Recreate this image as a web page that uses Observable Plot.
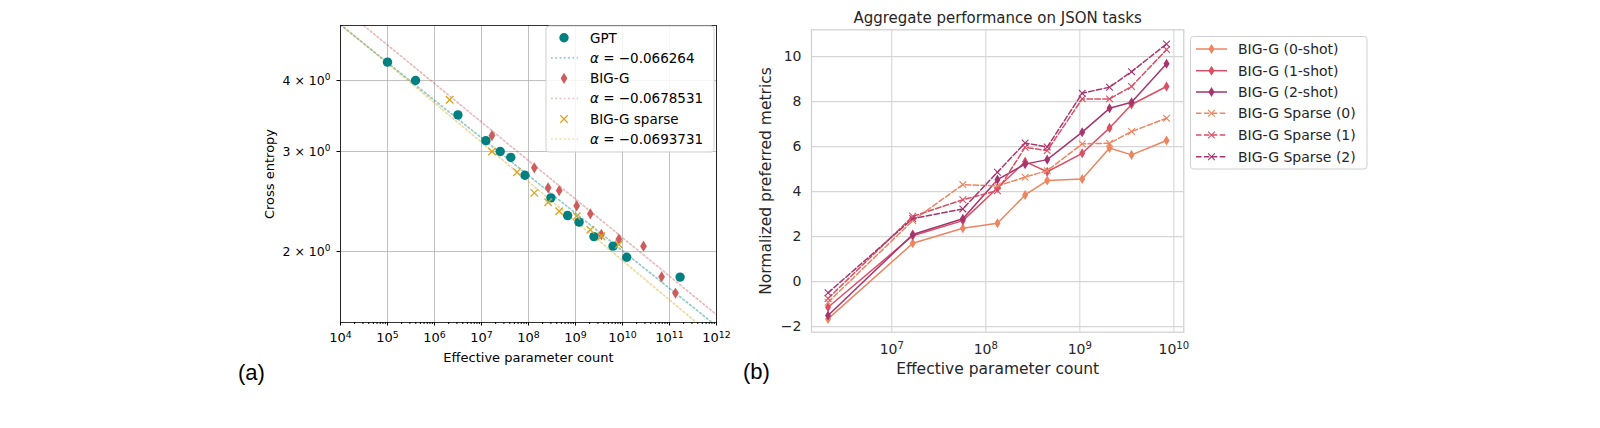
<!DOCTYPE html>
<html><head><meta charset="utf-8">
<script src="https://cdn.jsdelivr.net/npm/d3@7"></script>
<script src="https://cdn.jsdelivr.net/npm/@observablehq/plot@0.6"></script>
<style>
body{margin:0;background:#fff;}
#wrap{position:relative;width:1600px;height:428px;overflow:hidden;font-family:"DejaVu Sans",sans-serif;background:#fff;}
#wrap > svg{position:absolute;top:0;}
</style></head><body><div id="wrap"></div>
<script>
// ---------- Panel (a) data ----------
const gptX = [1e5, 3.95e5, 3.15e6, 1.24e7, 2.5e7, 4.2e7, 8.4e7, 3.0e8, 6.8e8, 1.19e9, 2.47e9, 6.3e9, 1.23e10, 1.68e11];
const gptY = [4.31, 4.00, 3.48, 3.135, 3.00, 2.93, 2.725, 2.486, 2.314, 2.253, 2.125, 2.044, 1.954, 1.803];
const bigX = [1.67e7, 1.33e8, 2.62e8, 4.5e8, 1.06e9, 2.07e9, 3.55e9, 8.36e9, 2.8e10, 6.8e10, 1.34e11];
const bigY = [3.20, 2.808, 2.589, 2.561, 2.407, 2.330, 2.143, 2.102, 2.044, 1.805, 1.690];
const sparseX = [2.1e6, 1.67e7, 5.7e7, 1.33e8, 2.62e8, 4.5e8, 1.06e9, 2.07e9, 3.55e9, 8.36e9];
const sparseY = [3.70, 3.00, 2.759, 2.537, 2.443, 2.355, 2.307, 2.184, 2.128, 2.058];
// fitted power-law lines (straight in log-log): end points at x = 1e4 and 1e12
const fitEndX = [1e4, 1e12];
const fitGptY = [5.01, 1.479];
const fitBigY = [5.40, 1.548];
const fitSparseY = [5.03, 1.401];
const fitAlphaLabels = ["−0.066264", "−0.0678531", "−0.0693731"];
const aXTicks = [1e4, 1e5, 1e6, 1e7, 1e8, 1e9, 1e10, 1e11, 1e12];
const aXTickLabels = ["10⁴", "10⁵", "10⁶", "10⁷", "10⁸", "10⁹", "10¹⁰", "10¹¹", "10¹²"];
const aYTicks = [2, 3, 4];
const aYTickLabels = ["2 × 10⁰", "3 × 10⁰", "4 × 10⁰"];

// ---------- Panel (b) data ----------
const paramX = [2.1e6, 1.67e7, 5.7e7, 1.33e8, 2.62e8, 4.5e8, 1.06e9, 2.07e9, 3.55e9, 8.36e9];
const seriesNames = ["BIG-G (0-shot)", "BIG-G (1-shot)", "BIG-G (2-shot)", "BIG-G Sparse (0)", "BIG-G Sparse (1)", "BIG-G Sparse (2)"];
const shot0 = [-1.66, 1.70, 2.37, 2.59, 3.85, 4.49, 4.56, 5.94, 5.63, 6.27];
const shot1 = [-1.14, 2.04, 2.71, 4.16, 5.33, 4.88, 5.70, 6.83, 7.87, 8.67];
const shot2 = [-1.51, 2.09, 2.79, 4.53, 5.22, 5.42, 6.64, 7.70, 7.97, 9.68];
const sparse0 = [-0.92, 2.71, 4.31, 4.25, 4.64, 4.93, 6.12, 6.15, 6.67, 7.26];
const sparse1 = [-0.75, 2.90, 3.64, 4.04, 5.97, 5.82, 8.12, 8.12, 8.67, 10.31];
const sparse2 = [-0.50, 2.80, 3.23, 4.86, 6.16, 5.98, 8.37, 8.64, 9.33, 10.56];
const bXTicks = [1e7, 1e8, 1e9, 1e10];
const bXTickLabels = ["10⁷", "10⁸", "10⁹", "10¹⁰"];
const bYTicks = [-2, 0, 2, 4, 6, 8, 10];
const bYTickLabels = ["−2", "0", "2", "4", "6", "8", "10"];

// ---------- styles ----------
const cGpt = "#008080", cBig = "#cd5c5c", cSparse = "#daa520";
const bColors = ["#ec8560", "#dc4e63", "#a6356e", "#ec8560", "#dc4e63", "#a6356e"];
const bSeries = [shot0, shot1, shot2, sparse0, sparse1, sparse2];
const bDashed = [false, false, false, true, true, true];

const thinDiamond = {draw(ctx, size) {
  const r = Math.sqrt(size / Math.PI), h = r * 1.2, w = r * 0.72;
  ctx.moveTo(0, -h); ctx.lineTo(w, 0); ctx.lineTo(0, h); ctx.lineTo(-w, 0); ctx.closePath();
}};
const xMark = {draw(ctx, size) {
  const r = Math.sqrt(size / Math.PI) * 0.8;
  ctx.moveTo(-r, -r); ctx.lineTo(r, r); ctx.moveTo(r, -r); ctx.lineTo(-r, r);
}};

const wrap = document.getElementById("wrap");
const toRows = (xs, ys) => xs.map((x, i) => ({x, y: ys[i]}));
const aXMinor = [];
for (let k = 4; k < 12; k++) for (let m = 2; m <= 9; m++) aXMinor.push(m * Math.pow(10, k));

// turn unicode superscripts into raised tspans (mathtext-like)
const SUP = "⁰¹²³⁴⁵⁶⁷⁸⁹";
function fixSuperscripts(svg) {
  svg.querySelectorAll("text").forEach(t => {
    if (t.children.length) return;
    const s = t.textContent;
    const m = s.match(/^(.*10)([⁰¹²³⁴⁵⁶⁷⁸⁹]+)$/);
    if (!m) return;
    const digits = m[2].split("").map(c => SUP.indexOf(c)).join("");
    t.textContent = "";
    const ns = "http://www.w3.org/2000/svg";
    const a = document.createElementNS(ns, "tspan"); a.textContent = m[1];
    const b = document.createElementNS(ns, "tspan"); b.textContent = digits;
    b.setAttribute("font-size", "72%"); b.setAttribute("dy", "-0.5em");
    t.appendChild(a); t.appendChild(b);
  });
}

// ---------- Panel (a) ----------
const fitDotted = {strokeWidth: 1.7, strokeOpacity: 0.42, strokeDasharray: "1.7,2.6", clip: true};
const A = Plot.plot({
  width: 740, height: 428,
  marginLeft: 340, marginRight: 24, marginTop: 25, marginBottom: 106,
  style: {fontFamily: "'DejaVu Sans', sans-serif", fontSize: "13px", color: "#000", background: "transparent", overflow: "visible"},
  x: {type: "log", domain: [1e4, 1e12]},
  y: {type: "log", domain: [1.5, 5.0]},
  marks: [
    Plot.gridX(aXTicks, {stroke: "#b0b0b0", strokeOpacity: 1, strokeWidth: 0.8}),
    Plot.gridY(aYTicks, {stroke: "#b0b0b0", strokeOpacity: 1, strokeWidth: 0.8}),
    Plot.line(toRows(fitEndX, fitGptY), {x: "x", y: "y", stroke: cGpt, ...fitDotted}),
    Plot.line(toRows(fitEndX, fitBigY), {x: "x", y: "y", stroke: cBig, ...fitDotted}),
    Plot.line(toRows(fitEndX, fitSparseY), {x: "x", y: "y", stroke: cSparse, ...fitDotted}),
    Plot.dot(toRows(gptX, gptY), {x: "x", y: "y", r: 4.7, fill: cGpt, stroke: "none"}),
    Plot.dot(toRows(bigX, bigY), {x: "x", y: "y", r: 4.7, symbol: thinDiamond, fill: cBig, stroke: "none"}),
    Plot.dot(toRows(sparseX, sparseY), {x: "x", y: "y", r: 4.7, symbol: xMark, fill: "none", stroke: cSparse, strokeWidth: 1.3}),
    Plot.frame({stroke: "#000", strokeWidth: 0.8}),
    Plot.axisX(aXTicks, {tickSize: 3.5, tickPadding: 7, fontSize: 13, label: null,
      tickFormat: d => aXTickLabels[aXTicks.indexOf(d)]}),
    Plot.axisX(aXMinor, {tickSize: 2, tickFormat: () => "", label: null}),
    Plot.axisY(aYTicks, {tickSize: 3.5, tickPadding: 6.5, fontSize: 12.5, label: null,
      tickFormat: d => aYTickLabels[aYTicks.indexOf(d)]}),
    Plot.text(["Effective parameter count"], {frameAnchor: "bottom", dy: 35.7, fontSize: 13, textAnchor: "middle", lineAnchor: "middle"}),
    Plot.text(["Cross entropy"], {frameAnchor: "left", dx: -71, rotate: -90, fontSize: 13, textAnchor: "middle", lineAnchor: "middle"})
  ]
});
A.style.left = "0px";
fixSuperscripts(A);
wrap.appendChild(A);

// ---------- Panel (b) ----------
const bMarks = [
  Plot.gridX(bXTicks, {stroke: "#d6d6d6", strokeOpacity: 1, strokeWidth: 1.1}),
  Plot.gridY(bYTicks, {stroke: "#d6d6d6", strokeOpacity: 1, strokeWidth: 1.1}),
  Plot.frame({stroke: "#cfcfcf", strokeWidth: 1.2})
];
bSeries.forEach((vals, s) => {
  const rows = toRows(paramX, vals);
  bMarks.push(Plot.line(rows, {x: "x", y: "y", stroke: bColors[s], strokeWidth: 1.5,
    strokeDasharray: bDashed[s] ? "5.5,2.4" : null}));
  if (bDashed[s]) bMarks.push(Plot.dot(rows, {x: "x", y: "y", r: 4.2, symbol: xMark, fill: "none", stroke: bColors[s], strokeWidth: 1.1}));
  else bMarks.push(Plot.dot(rows, {x: "x", y: "y", r: 4.2, symbol: thinDiamond, fill: bColors[s], stroke: "none"}));
});
bMarks.push(
  Plot.axisX(bXTicks, {tickSize: 0, tickPadding: 11.5, fontSize: 14, label: null,
    tickFormat: d => bXTickLabels[bXTicks.indexOf(d)]}),
  Plot.axisY(bYTicks, {tickSize: 0, tickPadding: 10, fontSize: 14, label: null,
    tickFormat: d => bYTickLabels[bYTicks.indexOf(d)]}),
  Plot.text(["Aggregate performance on JSON tasks"], {frameAnchor: "top", dy: -12, fontSize: 15, textAnchor: "middle", lineAnchor: "middle"}),
  Plot.text(["Effective parameter count"], {frameAnchor: "bottom", dy: 36.6, fontSize: 15.5, textAnchor: "middle", lineAnchor: "middle"}),
  Plot.text(["Normalized preferred metrics"], {frameAnchor: "left", dx: -45, rotate: -90, fontSize: 15.5, textAnchor: "middle", lineAnchor: "middle"})
);
const B = Plot.plot({
  width: 860, height: 428,
  marginLeft: 71, marginRight: 416.7, marginTop: 29.3, marginBottom: 96.3,
  style: {fontFamily: "'DejaVu Sans', sans-serif", fontSize: "14px", color: "#262626", background: "transparent", overflow: "visible"},
  x: {type: "log", domain: [1.4e6, 1.276e10]},
  y: {domain: [-2.25, 11.19]},
  marks: bMarks
});
B.style.left = "740px";
fixSuperscripts(B);
wrap.appendChild(B);

// ---------- legends & panel letters ----------
const ov = d3.select(wrap).append("svg").attr("width", 1600).attr("height", 428)
  .style("left", "0px").style("pointer-events", "none");

function symPath(type, r) { return d3.symbol().type(type).size(Math.PI * r * r)(); }

// legend (a)
ov.append("rect").attr("x", 546).attr("y", 26).attr("width", 168).attr("height", 126)
  .attr("rx", 3).attr("fill", "#fff").attr("fill-opacity", 0.85).attr("stroke", "#d0d0d0").attr("stroke-width", 1);
const legA = [
  {kind: "dot", color: cGpt, label: "GPT"},
  {kind: "fit", color: cGpt, alpha: fitAlphaLabels[0]},
  {kind: "diamond", color: cBig, label: "BIG-G"},
  {kind: "fit", color: cBig, alpha: fitAlphaLabels[1]},
  {kind: "x", color: cSparse, label: "BIG-G sparse"},
  {kind: "fit", color: cSparse, alpha: fitAlphaLabels[2]}
];
const rowA = [37.7, 57.8, 78.3, 98.5, 119, 139];
legA.forEach((d, i) => {
  const y = rowA[i];
  const g = ov.append("g");
  if (d.kind === "fit") {
    g.append("line").attr("x1", 551).attr("x2", 578).attr("y1", y).attr("y2", y)
      .attr("stroke", d.color).attr("stroke-opacity", 0.42).attr("stroke-width", 1.7).attr("stroke-dasharray", "1.7,2.6");
  } else if (d.kind === "dot") {
    g.append("circle").attr("cx", 564).attr("cy", y).attr("r", 4.7).attr("fill", d.color);
  } else if (d.kind === "diamond") {
    g.append("path").attr("d", symPath(thinDiamond, 4.7)).attr("transform", `translate(564,${y})`).attr("fill", d.color);
  } else {
    g.append("path").attr("d", symPath(xMark, 4.7)).attr("transform", `translate(564,${y})`)
      .attr("fill", "none").attr("stroke", d.color).attr("stroke-width", 1.3);
  }
  const t = g.append("text").attr("x", 590).attr("y", y).attr("dy", "0.36em")
    .attr("font-family", "DejaVu Sans").attr("font-size", 13.5).attr("fill", "#000");
  if (d.kind === "fit") {
    t.append("tspan").attr("font-style", "italic").text("α");
    t.append("tspan").text(" = " + d.alpha);
  } else t.text(d.label);
});

// legend (b)
ov.append("rect").attr("x", 1190.5).attr("y", 36.5).attr("width", 176.5).attr("height", 132.5)
  .attr("rx", 3).attr("fill", "#fff").attr("fill-opacity", 0.85).attr("stroke", "#d0d0d0").attr("stroke-width", 1);
const rowB = [49, 70.7, 92, 113.3, 135, 156.7];
seriesNames.forEach((name, s) => {
  const y = rowB[s];
  const g = ov.append("g");
  g.append("line").attr("x1", 1196).attr("x2", 1227).attr("y1", y).attr("y2", y)
    .attr("stroke", bColors[s]).attr("stroke-width", 1.5).attr("stroke-dasharray", bDashed[s] ? "5.5,2.4" : null);
  if (bDashed[s]) g.append("path").attr("d", symPath(xMark, 4.2)).attr("transform", `translate(1211.5,${y})`)
    .attr("fill", "none").attr("stroke", bColors[s]).attr("stroke-width", 1.1);
  else g.append("path").attr("d", symPath(thinDiamond, 4.2)).attr("transform", `translate(1211.5,${y})`).attr("fill", bColors[s]);
  g.append("text").attr("x", 1238).attr("y", y).attr("dy", "0.36em")
    .attr("font-family", "DejaVu Sans").attr("font-size", 14).attr("fill", "#262626").text(name);
});

// panel letters
ov.append("text").attr("x", 251.5).attr("y", 372).attr("dy", "0.35em").attr("text-anchor", "middle")
  .attr("font-family", "Liberation Sans, Arial, sans-serif").attr("font-size", 22).text("(a)");
ov.append("text").attr("x", 756.5).attr("y", 371).attr("dy", "0.35em").attr("text-anchor", "middle")
  .attr("font-family", "Liberation Sans, Arial, sans-serif").attr("font-size", 22).text("(b)");
</script></body></html>
